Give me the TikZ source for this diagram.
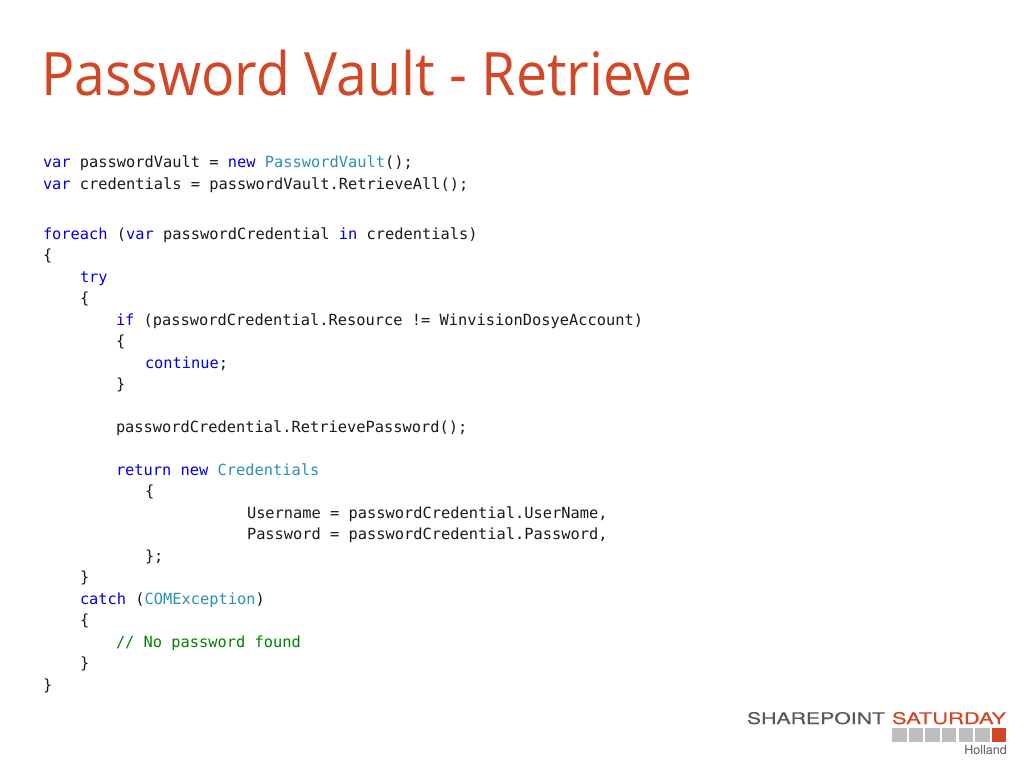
\documentclass[tikz,border=0pt]{standalone}
\usepackage{fontspec}
\setmainfont{Open Sans}
\newfontfamily\codefont{DejaVu Sans Mono}
\newfontfamily\logofont[FakeBold=0.4]{TeX Gyre Heros}
\newfontfamily\placefont{TeX Gyre Heros}
\definecolor{titlered}{HTML}{D24726}
\definecolor{kwblue}{HTML}{0000E0}
\definecolor{typeteal}{HTML}{2B91AF}
\definecolor{cmtgreen}{HTML}{008000}
\definecolor{codeink}{HTML}{1A1A1A}
\definecolor{logogray}{HTML}{58595B}
\definecolor{tilegray}{HTML}{BDBDBD}
\newcommand{\kw}[1]{\textcolor{kwblue}{#1}}
\newcommand{\ty}[1]{\textcolor{typeteal}{#1}}
\tikzset{
  codeline/.style={anchor=base west,inner sep=0pt,outer sep=0pt,yshift=-0.5pt,text=codeink,font=\codefont\fontsize{15.36pt}{18pt}\selectfont},
  tile/.style={fill=tilegray,draw=none,minimum width=14.3pt,minimum height=14pt,inner sep=0pt,anchor=north west},
  logotext/.style={anchor=base west,inner sep=0pt,outer sep=0pt},
}
\begin{document}
\begin{tikzpicture}[x=1pt,y=-1pt]
\useasboundingbox[fill=white] (0,0) rectangle (1024,768);
\node[anchor=base west,inner sep=0pt,text=titlered,font=\fontsize{60pt}{66pt}\selectfont] (title) at (41,95) {\resizebox{651pt}{!}{\scalebox{1}[1.08]{Password Vault - Retrieve}}};

\node[codeline] (l1) at (43,167) {\kw{var} passwordVault = \kw{new} \ty{PasswordVault}();};
\node[codeline] (l2) at (43,189) {\kw{var} credentials = passwordVault.RetrieveAll();};
\node[codeline] (l3) at (43,239) {\kw{foreach} (\kw{var} passwordCredential \kw{in} credentials)};
\node[codeline] (l4) at (43,260) {\{};
\node[codeline] (l5) at (80,282) {\kw{try}};
\node[codeline] (l6) at (80,303) {\{};
\node[codeline] (l7) at (116,325) {\kw{if} (passwordCredential.Resource != WinvisionDosyeAccount)};
\node[codeline] (l8) at (116,346) {\{};
\node[codeline] (l9) at (145,368) {\kw{continue};};
\node[codeline] (l10) at (116,389) {\}};
\node[codeline] (l11) at (116,432) {passwordCredential.RetrievePassword();};
\node[codeline] (l12) at (116,475) {\kw{return} \kw{new} \ty{Credentials}};
\node[codeline] (l13) at (145,496) {\{};
\node[codeline] (l14) at (247,518) {Username = passwordCredential.UserName,};
\node[codeline] (l15) at (247,539) {Password = passwordCredential.Password,};
\node[codeline] (l16) at (145,561) {\};};
\node[codeline] (l17) at (80,582) {\}};
\node[codeline] (l18) at (80,604) {\kw{catch} (\ty{COMException})};
\node[codeline] (l19) at (80,625) {\{};
\node[codeline] (l20) at (116,647) {\textcolor{cmtgreen}{// No password found}};
\node[codeline] (l21) at (80,668) {\}};
\node[codeline] (l22) at (43,690) {\}};

\node[logotext,text=logogray] (sp) at (747,724) {\resizebox{138pt}{12pt}{\logofont SHAREPOINT}};
\node[logotext,text=titlered] (ss) at (892,724) {\resizebox{114pt}{12pt}{\logofont SATURDAY}};
\node[tile] (t1) at (892,728) {};
\node[tile] (t2) at (908.6,728) {};
\node[tile] (t3) at (925.2,728) {};
\node[tile] (t4) at (941.8,728) {};
\node[tile] (t5) at (958.4,728) {};
\node[tile] (t6) at (975,728) {};
\node[tile,fill=titlered] (t7) at (991.6,728) {};
\node[anchor=base east,inner sep=0pt,text=logogray,font=\placefont\fontsize{12.5pt}{14pt}\selectfont] (hol) at (1007,754) {Holland};
\end{tikzpicture}
\end{document}
